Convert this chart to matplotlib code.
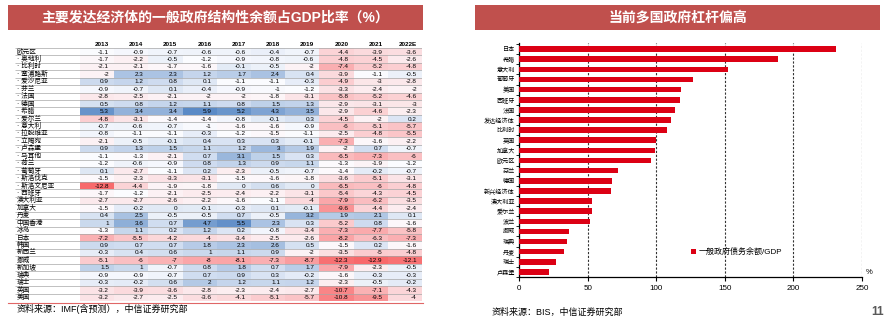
import numpy as np
import matplotlib.pyplot as plt
from matplotlib import colors
from matplotlib.patches import Rectangle
from matplotlib.lines import Line2D

plt.rcParams['font.family'] = ['Liberation Sans', 'Noto Sans CJK SC', 'DejaVu Sans']

# structural balance table (% of GDP)
years = ['2013', '2014', '2015', '2016', '2017', '2018', '2019', '2020', '2021', '2022E']
regions = ['欧元区', '· 奥地利', '· 比利时', '· 塞浦路斯', '· 爱沙尼亚', '· 芬兰', '· 法国',
           '· 德国', '· 希腊', '· 爱尔兰', '· 意大利', '· 拉脱维亚', '· 立陶宛', '· 卢森堡',
           '· 马耳他', '· 荷兰', '· 葡萄牙', '· 斯洛伐克', '· 斯洛文尼亚', '· 西班牙',
           '澳大利亚', '加拿大', '丹麦', '中国香港', '冰岛', '日本', '韩国', '新西兰',
           '挪威', '新加坡', '瑞典', '瑞士', '英国', '美国']
balance = [
    [-1.1, -0.9, -0.7, -0.6, -0.6, -0.4, -0.7, -4.4, -3.9, -3.6],
    [-1.7, -2.2, -0.5, -1.2, -0.9, -0.8, -0.6, -4.8, -4.5, -2.6],
    [-2.1, -2.1, -1.7, -1.6, -0.1, -0.5, -2, -7.4, -5.2, -4.8],
    [-2, 2.3, 2.3, 1.2, 1.7, 2.4, 0.4, -3.9, -1.1, -0.5],
    [0.9, 1.2, 0.8, 0.1, -1.1, -1.1, -0.3, -4.9, -3, -2.8],
    [-0.9, -0.7, 0.1, -0.4, -0.9, -1, -1.2, -3.3, -2.4, -2],
    [-2.8, -2.5, -2.1, -2, -2, -1.8, -3.1, -5.8, -5.2, -4.6],
    [0.5, 0.8, 1.2, 1.1, 0.8, 1.5, 1.3, -2.9, -3.1, -3],
    [5.3, 3.4, 3.4, 5.9, 5.2, 4.3, 3.5, -2.9, -4.6, -2.3],
    [-4.8, -3.1, -1.4, -1.4, -0.8, -0.1, 0.3, -4.5, -2, 0.2],
    [-0.7, -0.6, -0.7, -1, -1.6, -1.6, -0.9, -6, -5.1, -5.7],
    [-0.8, -1.1, -1.1, -0.3, -1.2, -1.5, -1.1, -2.5, -4.8, -5.5],
    [-2.1, -0.5, -0.1, 0.4, 0.3, 0.3, -0.1, -7.3, -1.6, -2.2],
    [0.9, 1.3, 1.5, 1.1, 1.2, 3, 1.9, -2, 0.7, -0.7],
    [-1.1, -1.3, -2.1, 0.7, 3.1, 1.5, 0.3, -6.5, -7.3, -6],
    [-1.2, -0.6, -0.9, 0.8, 1.3, 0.9, 1.1, -1.3, -1.9, -1.2],
    [0.1, -2.7, -1.1, 0.2, -2.3, -0.5, -0.7, -1.4, -0.2, -0.7],
    [-1.5, -2.3, -3.3, -3.1, -1.5, -1.6, -1.8, -3.6, -5.1, -3.1],
    [-12.8, -4.4, -1.9, -1.8, 0, 0.6, 0, -6.5, -6, -4.8],
    [-1.7, -1.2, -2.1, -2.5, -2.4, -2.2, -3.1, -5.4, -4.3, -4.5],
    [-2.7, -2.7, -2.6, -2.2, -1.6, -1.1, -4, -7.9, -6.2, -3.5],
    [-1.5, -0.2, 0, -0.1, -0.3, 0.1, -0.1, -9.6, -4.4, -2.4],
    [0.4, 2.5, -0.5, -0.5, 0.7, -0.5, 3.2, 1.9, 2.1, 0.1],
    [1, 3.6, 0.7, 4.7, 5.5, 2.3, 0.3, -5.2, 0.8, -1.6],
    [-1.3, 1.1, 0.2, 1.2, 0.2, -0.8, -3.4, -7.3, -7.7, -5.8],
    [-7.2, -5.5, -4.2, -4, -3.4, -2.5, -2.6, -8.2, -6.3, -7.3],
    [0.9, 0.7, 0.7, 1.8, 2.3, 2.6, 0.5, -1.5, 0.2, -1.6],
    [-0.3, 0.4, 0.6, 1, 1.1, 0.9, -2, -3.5, -5, -4.8],
    [-5.1, -6, -7, -8, -8.1, -7.3, -8.7, -12.3, -12.9, -12.1],
    [1.5, 1, -0.7, 0.8, 1.8, 0.7, 1.7, -7.9, -2.3, -0.5],
    [-0.9, -0.9, -0.7, 0.7, 0.9, 0.3, -0.2, -1.6, -0.3, -0.3],
    [-0.3, -0.2, 0.6, 2, 1.2, 1.1, 1.2, -2.3, -0.5, -0.2],
    [-3.2, -3.9, -3.6, -2.8, -2.3, -2.4, -2.7, -10.7, -7.1, -4.3],
    [-3.2, -2.7, -2.5, -3.6, -4.1, -5.1, -5.7, -10.8, -9.5, -4],
]

# government debt / GDP (%)
countries = ['日本', '希腊', '意大利', '葡萄牙', '美国', '西班牙', '法国', '发达经济体',
             '比利时', '英国', '加拿大', '欧元区', '芬兰', '德国', '新兴经济体', '澳大利亚',
             '爱尔兰', '波兰', '挪威', '瑞典', '丹麦', '瑞士', '卢森堡']
debt = [231, 189, 152, 127, 118, 117.5, 114, 111, 108, 100, 99, 96, 72, 68, 67,
        53, 53, 52, 36.5, 35, 33, 27, 22]

W, H = 889, 324
RED_BAR = '#C0504D'


def fx(px):
    return px / W


def fy(py):
    return 1 - py / H


def titleBar(fig, x0, x1, text):
    fig.add_artist(Rectangle((fx(x0), fy(30)), (x1 - x0) / W, 25 / H,
                             transform=fig.transFigure, color=RED_BAR, lw=0))
    fig.text(fx((x0 + x1) / 2), fy(17.5), text, ha='center', va='center',
             color='white', fontsize=10, fontweight='bold')


def tablePlot(fig):
    ax = fig.add_axes([fx(15), fy(301), (422 - 15) / W, (301 - 40.5) / H])
    vals = np.array(balance)
    nrow, ncol = vals.shape
    cmap = colors.LinearSegmentedColormap.from_list('rwb', ['#F8696B', '#FCFCFF', '#5A8AC6'])
    norm = colors.TwoSlopeNorm(vmin=vals.min(), vcenter=np.median(vals), vmax=vals.max())
    ax.pcolormesh(np.arange(ncol + 1), np.arange(1, nrow + 2), vals, cmap=cmap, norm=norm)
    ax.set_xlim(-1.9, ncol)
    ax.set_ylim(nrow + 1, 0)
    ax.axis('off')

    for j, yr in enumerate(years):
        ax.text(j + 0.85, 0.55, yr, ha='right', va='center', fontsize=4.6, fontweight='bold')
    for i, name in enumerate(regions):
        ax.text(-1.85, i + 1.55, name, ha='left', va='center', fontsize=4.8)
        for j in range(ncol):
            ax.text(j + 0.85, i + 1.55, f'{vals[i, j]:g}', ha='right', va='center', fontsize=4.6)
    ax.hlines(np.arange(1, nrow + 1), -1.9, ncol, color='#A6A6A6', lw=0.5)

    fig.add_artist(Line2D([fx(8), fx(423)], [fy(303), fy(303)], color='#E06666', lw=0.8))
    fig.text(fx(17), fy(309), '资料来源：IMF(含预测），中信证券研究部', ha='left', va='center',
             fontsize=6.5)


def barPlot(fig):
    ax = fig.add_axes([fx(519), fy(277), (862 - 519) / W, (277 - 43) / H])
    y = np.arange(len(countries))
    bars = ax.barh(y, debt, height=0.55, color='#DC0014', label='一般政府债务余额/GDP', zorder=3)
    ax.set_xlim(0, 250)
    ax.set_ylim(len(countries) - 0.5, -0.6)
    ax.set_xticks(np.arange(0, 251, 50))
    ax.set_yticks(y)
    ax.set_yticklabels(countries)
    ax.set_yticks(np.arange(-0.5, len(countries), 1), minor=True)
    ax.xaxis.grid(True, ls=(0, (2, 1.5)), color='#333333', lw=0.8)
    for s in ['top', 'right']:
        ax.spines[s].set_visible(False)
    for s in ['left', 'bottom']:
        ax.spines[s].set_linewidth(0.9)
    ax.tick_params(axis='x', labelsize=5.8, length=3, width=0.8, pad=2.5)
    ax.tick_params(axis='y', which='major', labelsize=4.4, length=0, pad=3)
    ax.tick_params(axis='y', which='minor', length=2, width=0.6)
    ax.text(1.012, 0.006, '%', transform=ax.transAxes, ha='left', va='bottom', fontsize=5.5)
    ax.legend(handles=[bars], loc='center left', bbox_to_anchor=(0.49, 0.107), frameon=False,
              fontsize=5.8, handlelength=0.6, handleheight=0.6, handletextpad=0.3, borderpad=0)

    fig.text(fx(492), fy(312), '资料来源：BIS，中信证券研究部', ha='left', va='center', fontsize=6.5)
    fig.text(fx(878), fy(312), '11', ha='center', va='center', fontsize=8.5,
             fontweight='bold', color='#595959')


def main():
    fig = plt.figure(figsize=(W / 100, H / 100), dpi=100)
    titleBar(fig, 8, 423, '主要发达经济体的一般政府结构性余额占GDP比率（%）')
    titleBar(fig, 475, 880, '当前多国政府杠杆偏高')
    tablePlot(fig)
    barPlot(fig)
    fig.savefig('out.png', dpi=100)


if __name__ == "__main__":
    main()
